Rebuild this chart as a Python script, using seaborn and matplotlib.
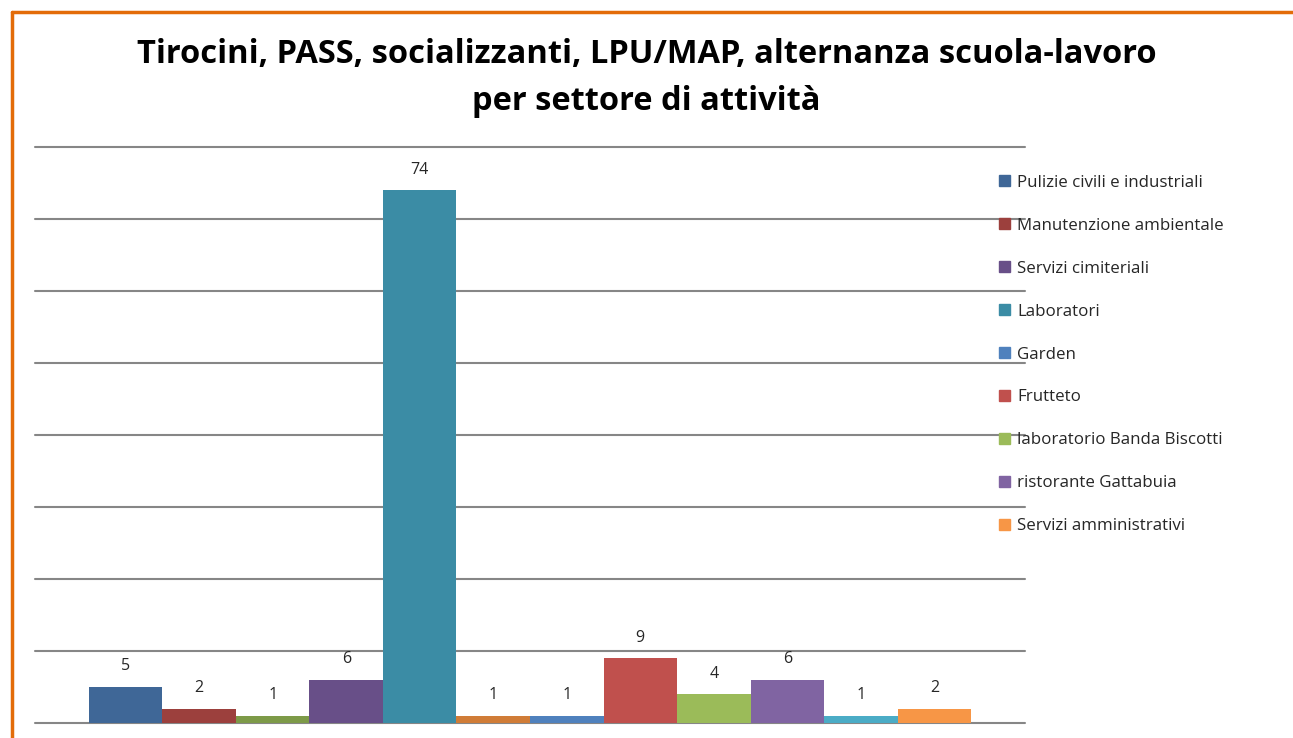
import matplotlib
matplotlib.use('Agg')
import matplotlib.pyplot as plt
import matplotlib.patches as mpatches
from matplotlib.lines import Line2D
import seaborn as sns
import pandas as pd

# dati
serie = ['Pulizie civili e industriali', 'Manutenzione ambientale', 'serie 3',
         'Servizi cimiteriali', 'Laboratori', 'serie 6', 'Garden', 'Frutteto',
         'laboratorio Banda Biscotti', 'ristorante Gattabuia', 'serie 11',
         'Servizi amministrativi']
valori = [5, 2, 1, 6, 74, 1, 1, 9, 4, 6, 1, 2]
colori = ['#3F6797', '#9C403D', '#7D9A48', '#684F88', '#3B8CA5', '#D07C37',
          '#4F81BD', '#C0504D', '#9BBB59', '#8064A2', '#4BACC6', '#F79646']
# voci che compaiono in legenda
legenda = ['Pulizie civili e industriali', 'Manutenzione ambientale', 'Servizi cimiteriali',
           'Laboratori', 'Garden', 'Frutteto', 'laboratorio Banda Biscotti',
           'ristorante Gattabuia', 'Servizi amministrativi']
titolo = 'Tirocini, PASS, socializzanti, LPU/MAP, alternanza scuola-lavoro\nper settore di attività'

df = pd.DataFrame({'serie': serie, 'valore': valori})
pal = dict(zip(serie, colori))

sns.set_style('white')
plt.rcParams['font.family'] = ['Open Sans', 'DejaVu Sans']

fig = plt.figure(figsize=(12.93, 7.38), dpi=100)
ax = fig.add_axes([35 / 1293, 1 - 723 / 738, 990 / 1293, 576 / 738])

sns.barplot(data=df, x='serie', y='valore', hue='serie', palette=pal, saturation=1,
            width=1.0, legend=False, ax=ax, order=serie, linewidth=0)

for i, v in enumerate(valori):
    ax.annotate(str(v), (i, v), xytext=(0, 9), textcoords='offset points',
                ha='center', va='bottom', fontsize=11.5, color='#262626')

ax.set_ylim(0, 80)
ax.set_yticks(range(0, 81, 10))
ax.set_xlim(-0.5 - 0.733, 11.5 + 0.733)
ax.yaxis.grid(True, color='#868686', lw=1.5)
for gl in ax.get_ygridlines():
    gl.set_clip_on(False)
ax.set_axisbelow(True)
ax.tick_params(left=False, bottom=False, labelleft=False, labelbottom=False)
ax.set_xlabel('')
ax.set_ylabel('')
for s in ax.spines.values():
    s.set_visible(False)

handles = [mpatches.Patch(color=pal[n], label=n) for n in legenda]
fig.legend(handles=handles, loc='upper left', bbox_to_anchor=(992 / 1293, 1 - 168 / 738),
           frameon=False, fontsize=12.2, handlelength=0.65, handleheight=0.65,
           handletextpad=0.45, labelspacing=1.59, borderaxespad=0)

fig.text(0.5, 1 - 78 / 738, titolo, ha='center', va='center', fontsize=23.5,
         fontweight='bold', linespacing=1.58, color='black')

# cornice arancione
fig.add_artist(Line2D([12 / 1293, 1], [1 - 12 / 738, 1 - 12 / 738], color='#E36C09', lw=2.5,
                      transform=fig.transFigure))
fig.add_artist(Line2D([12 / 1293, 12 / 1293], [0, 1 - 12 / 738], color='#E36C09', lw=2.5,
                      transform=fig.transFigure))

fig.savefig('out.png', dpi=100)
